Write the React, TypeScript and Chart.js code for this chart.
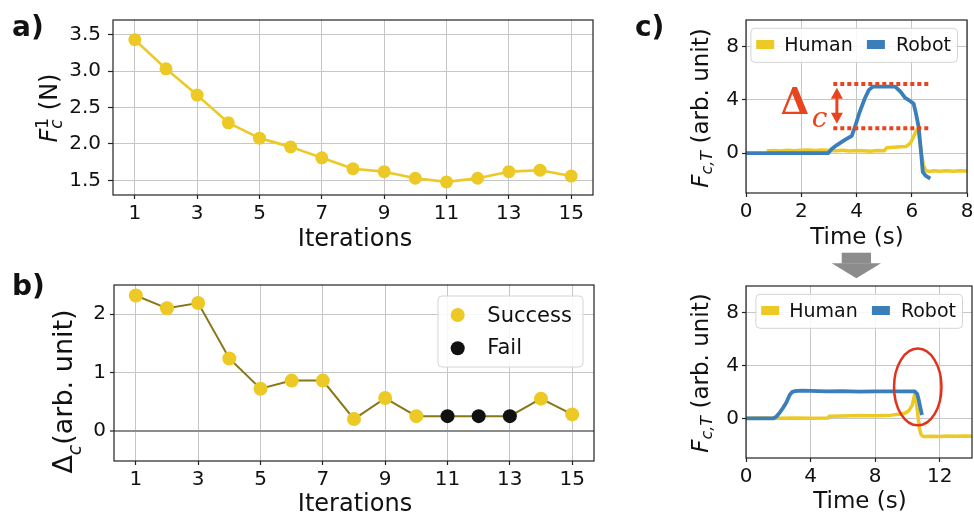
import React, { useEffect, useRef } from "react";
import { Chart, registerables } from "chart.js";

Chart.register(...registerables);

const FAM = "'DejaVu Sans', sans-serif";
const SERIF = "'DejaVu Serif', serif";
const INK = "#111111";
const YELLOW = "#ecc924";
const OLIVE = "#877718";
const BLUE = "#3a7eba";
const RED = "#e8441e";
const ELLIPSE_RED = "#e0321e";
const GRID = "#c6c6c6";
const AXIS = "#222222";

// ---------- panel a ----------
const iterations = [1, 2, 3, 4, 5, 6, 7, 8, 9, 10, 11, 12, 13, 14, 15];
const forceFirst = [3.43, 3.03, 2.67, 2.29, 2.08, 1.96, 1.81, 1.66, 1.62, 1.53, 1.48, 1.53, 1.62, 1.64, 1.56];
const iterTicks = [1, 3, 5, 7, 9, 11, 13, 15];
const iterTickLabels = ["1", "3", "5", "7", "9", "11", "13", "15"];
const forceTicks = [1.5, 2.0, 2.5, 3.0, 3.5];
const forceTickLabels = ["1.5", "2.0", "2.5", "3.0", "3.5"];

// ---------- panel b ----------
const deltaC = [2.32, 2.1, 2.19, 1.24, 0.72, 0.86, 0.86, 0.2, 0.56, 0.25, 0.25, 0.25, 0.25, 0.55, 0.28];
const outcome = ["Success", "Success", "Success", "Success", "Success", "Success", "Success", "Success", "Success", "Success", "Fail", "Fail", "Fail", "Success", "Success"];
const deltaTicks = [0, 1, 2];
const deltaTickLabels = ["0", "1", "2"];

// ---------- panel c (top: before learning) ----------
const humanTopT = [0.75, 1.0, 1.25, 1.5, 1.75, 2.0, 2.25, 2.5, 2.75, 3.0, 3.25, 3.5, 3.75, 4.0, 4.25, 4.5, 4.75, 5.0, 5.1, 5.35, 5.6, 5.8, 5.95, 6.05, 6.17, 6.22, 6.28, 6.35, 6.42, 6.5, 6.6, 6.8, 7.0, 7.25, 7.5, 7.75, 8.0];
const humanTopF = [0.15, 0.2, 0.16, 0.22, 0.18, 0.21, 0.24, 0.19, 0.23, 0.2, 0.17, 0.22, 0.15, 0.2, 0.18, 0.14, 0.19, 0.17, 0.4, 0.43, 0.47, 0.5, 0.75, 1.15, 1.7, 1.85, 1.1, 0.0, -0.9, -1.3, -1.38, -1.33, -1.37, -1.32, -1.36, -1.33, -1.35];
const robotTopT = [0, 2.98, 3.1, 3.29, 3.55, 3.83, 3.95, 4.1, 4.3, 4.45, 4.6, 5.0, 5.4, 5.6, 5.76, 5.95, 6.07, 6.15, 6.25, 6.33, 6.4, 6.5, 6.67];
const robotTopF = [0, 0, 0.3, 0.6, 0.95, 1.3, 2.0, 3.0, 4.1, 4.75, 5.0, 5.0, 5.0, 4.6, 4.15, 3.9, 3.7, 3.0, 1.95, 0.2, -1.42, -1.7, -1.92];
const timeTopTicks = [0, 2, 4, 6, 8];
const timeTopTickLabels = ["0", "2", "4", "6", "8"];
// delta_c marker levels (robot peak / human peak) and span
const deltaLevels = [5.2, 1.87];
const deltaSpan = [3.16, 6.6];
const deltaArrowT = 3.29;
const deltaArrowEnds = [4.9, 2.2];

// ---------- panel c (bottom: after learning) ----------
const humanBotT = [0, 1, 2, 3, 4, 5.1, 5.15, 6, 7, 8, 9, 9.3, 9.6, 9.9, 10.1, 10.3, 10.45, 10.55, 10.65, 10.75, 10.85, 11.0, 11.5, 12, 12.5, 13, 13.5, 14];
const humanBotF = [0, 0.02, 0, 0.02, 0, 0.02, 0.15, 0.18, 0.22, 0.2, 0.24, 0.28, 0.32, 0.42, 0.6, 1.0, 1.8, 1.3, 0.2, -0.8, -1.25, -1.38, -1.35, -1.37, -1.33, -1.36, -1.33, -1.35];
const robotBotT = [0, 1.7, 1.9, 2.1, 2.3, 2.5, 2.7, 2.85, 3.0, 3.5, 4.0, 5.0, 6.0, 7.0, 8.0, 9.0, 10.0, 10.45, 10.6, 10.7, 10.8, 10.9];
const robotBotF = [0, 0, 0.15, 0.45, 0.8, 1.2, 1.75, 1.98, 2.05, 2.1, 2.07, 2.03, 2.05, 2.02, 2.04, 2.03, 2.04, 2.03, 1.85, 1.4, 0.8, 0.25];
const timeBotTicks = [0, 4, 8, 12];
const timeBotTickLabels = ["0", "4", "8", "12"];
const forceCTicks = [0, 4, 8];
const forceCTickLabels = ["0", "4", "8"];
// highlighted region (centre t, centre F, half-width t, half-height F)
const highlight = [10.64, 2.37, 1.47, 2.9];

const seriesNames = ["Human", "Robot"];
const outcomeNames = ["Success", "Fail"];

type Seg = { t: string; font: string; dy?: number; stack?: boolean };

function richText(ctx: CanvasRenderingContext2D, segs: Seg[], x: number, y: number, rot: number) {
  ctx.save();
  ctx.translate(x, y);
  if (rot) ctx.rotate(rot);
  let pos = 0;
  let pending = 0;
  const placed: { s: Seg; x: number }[] = [];
  for (const s of segs) {
    ctx.font = s.font;
    const w = ctx.measureText(s.t).width;
    placed.push({ s, x: pos });
    if (s.stack) pending = Math.max(pending, w);
    else {
      pos += Math.max(w, pending);
      pending = 0;
    }
  }
  const start = -pos / 2;
  ctx.textBaseline = "alphabetic";
  ctx.textAlign = "left";
  ctx.fillStyle = INK;
  for (const p of placed) {
    ctx.font = p.s.font;
    ctx.fillText(p.s.t, start + p.x, p.s.dy ?? 0);
  }
  ctx.restore();
}

function plainText(ctx: CanvasRenderingContext2D, t: string, font: string, x: number, y: number, align: CanvasTextAlign, color = INK) {
  ctx.save();
  ctx.font = font;
  ctx.fillStyle = color;
  ctx.textAlign = align;
  ctx.textBaseline = "alphabetic";
  ctx.fillText(t, x, y);
  ctx.restore();
}

function frame(chart: any) {
  const { ctx, chartArea: a } = chart;
  ctx.save();
  ctx.strokeStyle = AXIS;
  ctx.lineWidth = 1.2;
  ctx.strokeRect(a.left, a.top, a.right - a.left, a.bottom - a.top);
  ctx.restore();
}

function legendBox(ctx: CanvasRenderingContext2D, x: number, y: number, w: number, h: number) {
  ctx.save();
  ctx.beginPath();
  ctx.roundRect(x, y, w, h, 4);
  ctx.fillStyle = "rgba(255,255,255,0.85)";
  ctx.fill();
  ctx.strokeStyle = "#d4d4d4";
  ctx.lineWidth = 1;
  ctx.stroke();
  ctx.restore();
}

function lineLegend(chart: any) {
  const { ctx, chartArea: a } = chart;
  const x0 = a.right - 9.5 - 206.6;
  const y0 = a.top + 8.3;
  legendBox(ctx, x0, y0, 206.6, 34);
  ctx.save();
  ctx.fillStyle = YELLOW;
  ctx.fillRect(x0 + 5.3, y0 + 11.7, 18, 9);
  ctx.fillStyle = BLUE;
  ctx.fillRect(x0 + 116, y0 + 11.7, 18, 9);
  ctx.restore();
  plainText(ctx, seriesNames[0], `19px ${FAM}`, x0 + 33.3, y0 + 22.4, "left");
  plainText(ctx, seriesNames[1], `19px ${FAM}`, x0 + 145, y0 + 22.4, "left");
}

function scale(axis: "x" | "y", min: number, max: number, ticks: number[], labels: string[], o: { fixed: number; tickLen: number; pad: number; gridColor?: any; gridWidth?: any }) {
  return {
    type: "linear",
    min,
    max,
    afterBuildTicks: (s: any) => {
      s.ticks = ticks.map((v) => ({ value: v }));
    },
    afterFit: (s: any) => {
      if (axis === "x") s.height = o.fixed;
      else s.width = o.fixed;
      s.paddingLeft = 0;
      s.paddingRight = 0;
      s.paddingTop = 0;
      s.paddingBottom = 0;
    },
    ticks: {
      callback: (_v: any, i: number) => labels[i],
      font: { size: 20, family: FAM },
      color: INK,
      padding: o.pad,
      maxRotation: 0,
      minRotation: 0,
      autoSkip: false,
    },
    grid: {
      color: o.gridColor ?? GRID,
      lineWidth: o.gridWidth ?? 1,
      tickLength: o.tickLen,
      tickColor: AXIS,
      tickWidth: 1.2,
      drawTicks: true,
    },
    border: { display: false },
  };
}

function baseOptions(padding: any, scales: any) {
  return {
    responsive: false,
    maintainAspectRatio: false,
    animation: false,
    events: [],
    layout: { padding },
    plugins: { legend: { display: false }, tooltip: { enabled: false } },
    scales,
  };
}

function configA(): any {
  return {
    type: "line",
    data: {
      datasets: [
        {
          data: iterations.map((x, i) => ({ x, y: forceFirst[i] })),
          borderColor: YELLOW,
          borderWidth: 2.6,
          pointRadius: 6.5,
          pointBackgroundColor: YELLOW,
          pointBorderWidth: 0,
          tension: 0,
          borderJoinStyle: "round",
        },
      ],
    },
    options: baseOptions(
      { top: 20, right: 27, left: 0, bottom: 0 },
      {
        x: scale("x", 0.3, 15.7, iterTicks, iterTickLabels, { fixed: 65, tickLen: 4, pad: 3 }),
        y: scale("y", 1.3, 3.7, forceTicks, forceTickLabels, { fixed: 113, tickLen: 5, pad: 7 }),
      }
    ),
    plugins: [
      {
        id: "decorA",
        afterDraw(chart: any) {
          const ctx = chart.ctx;
          frame(chart);
          richText(
            ctx,
            [
              { t: "F", font: `italic 24px ${FAM}` },
              { t: "1", font: `17px ${FAM}`, dy: -9, stack: true },
              { t: "c", font: `italic 17px ${FAM}`, dy: 5 },
              { t: " (N)", font: `24px ${FAM}` },
            ],
            57,
            108,
            -Math.PI / 2
          );
          plainText(ctx, "Iterations", `24px ${FAM}`, 355, 246, "center");
          plainText(ctx, "a)", `bold 28px ${FAM}`, 12, 36, "left");
        },
      },
    ],
  };
}

function configB(): any {
  return {
    type: "line",
    data: {
      datasets: [
        {
          data: iterations.map((x, i) => ({ x, y: deltaC[i] })),
          borderColor: OLIVE,
          borderWidth: 2,
          pointRadius: 7,
          pointBackgroundColor: outcome.map((o) => (o === "Fail" ? "#111111" : YELLOW)),
          pointBorderWidth: 0,
          tension: 0,
        },
      ],
    },
    options: baseOptions(
      { top: 25, right: 26, left: 0, bottom: 0 },
      {
        x: scale("x", 0.3, 15.7, iterTicks, iterTickLabels, { fixed: 59, tickLen: 4, pad: 3 }),
        y: scale("y", -0.52, 2.5, deltaTicks, deltaTickLabels, {
          fixed: 114,
          tickLen: 4,
          pad: 4,
          gridColor: (c: any) => (c.tick && c.tick.value === 0 ? "#8c8c8c" : GRID),
          gridWidth: (c: any) => (c.tick && c.tick.value === 0 ? 2 : 1),
        }),
      }
    ),
    plugins: [
      {
        id: "decorB",
        afterDraw(chart: any) {
          const ctx = chart.ctx;
          frame(chart);
          const a = chart.chartArea;
          const bx = a.right - 11 - 145;
          const by = a.top + 11;
          legendBox(ctx, bx, by, 145, 71);
          ctx.save();
          ctx.fillStyle = YELLOW;
          ctx.beginPath();
          ctx.arc(bx + 19.7, by + 19, 7, 0, Math.PI * 2);
          ctx.fill();
          ctx.fillStyle = "#111111";
          ctx.beginPath();
          ctx.arc(bx + 19.7, by + 52.3, 7, 0, Math.PI * 2);
          ctx.fill();
          ctx.restore();
          plainText(ctx, outcomeNames[0], `21px ${FAM}`, bx + 49.3, by + 25.7, "left");
          plainText(ctx, outcomeNames[1], `21px ${FAM}`, bx + 49.3, by + 58, "left");
          richText(
            ctx,
            [
              { t: "Δ", font: `27px ${FAM}` },
              { t: "c", font: `italic 19px ${FAM}`, dy: 9 },
              { t: "(arb. unit)", font: `27px ${FAM}` },
            ],
            72,
            131.5,
            -Math.PI / 2
          );
          plainText(ctx, "Iterations", `24px ${FAM}`, 355, 251, "center");
          plainText(ctx, "b)", `bold 28px ${FAM}`, 12, 35, "left");
        },
      },
    ],
  };
}

function forceTitle(ctx: CanvasRenderingContext2D, x: number, y: number) {
  richText(
    ctx,
    [
      { t: "F", font: `italic 23px ${FAM}` },
      { t: "c,T", font: `italic 16px ${FAM}`, dy: 4 },
      { t: " (arb. unit)", font: `23px ${FAM}` },
    ],
    x,
    y,
    -Math.PI / 2
  );
}

function lineDatasets(hT: number[], hF: number[], rT: number[], rF: number[]) {
  return [
    {
      data: hT.map((x, i) => ({ x, y: hF[i] })),
      borderColor: YELLOW,
      borderWidth: 3.5,
      pointRadius: 0,
      tension: 0,
      order: 1,
      borderJoinStyle: "round",
    },
    {
      data: rT.map((x, i) => ({ x, y: rF[i] })),
      borderColor: BLUE,
      borderWidth: 3.8,
      pointRadius: 0,
      tension: 0,
      order: 0,
      borderJoinStyle: "round",
    },
  ];
}

function configCTop(): any {
  return {
    type: "line",
    data: { datasets: lineDatasets(humanTopT, humanTopF, robotTopT, robotTopF) },
    options: baseOptions(
      { top: 20, right: 7, left: 0, bottom: 0 },
      {
        x: scale("x", 0, 8, timeTopTicks, timeTopTickLabels, { fixed: 67, tickLen: 4, pad: 3 }),
        y: scale("y", -3, 10, forceCTicks, forceCTickLabels, { fixed: 126, tickLen: 4, pad: 3 }),
      }
    ),
    plugins: [
      {
        id: "decorCTop",
        afterDatasetsDraw(chart: any) {
          const { ctx, scales } = chart;
          const xs = scales.x;
          const ys = scales.y;
          ctx.save();
          ctx.strokeStyle = RED;
          ctx.lineWidth = 4;
          ctx.setLineDash([4, 3]);
          for (const lv of deltaLevels) {
            ctx.beginPath();
            ctx.moveTo(xs.getPixelForValue(deltaSpan[0]), ys.getPixelForValue(lv));
            ctx.lineTo(xs.getPixelForValue(deltaSpan[1]), ys.getPixelForValue(lv));
            ctx.stroke();
          }
          ctx.setLineDash([]);
          const ax = xs.getPixelForValue(deltaArrowT);
          const y1 = ys.getPixelForValue(deltaArrowEnds[0]);
          const y2 = ys.getPixelForValue(deltaArrowEnds[1]);
          ctx.lineWidth = 3;
          ctx.beginPath();
          ctx.moveTo(ax, y1 + 8);
          ctx.lineTo(ax, y2 - 8);
          ctx.stroke();
          ctx.fillStyle = RED;
          ctx.beginPath();
          ctx.moveTo(ax, y1);
          ctx.lineTo(ax - 6, y1 + 11);
          ctx.lineTo(ax + 6, y1 + 11);
          ctx.closePath();
          ctx.fill();
          ctx.beginPath();
          ctx.moveTo(ax, y2);
          ctx.lineTo(ax - 6, y2 - 11);
          ctx.lineTo(ax + 6, y2 - 11);
          ctx.closePath();
          ctx.fill();
          ctx.restore();
          plainText(ctx, "Δ", `bold 37px ${SERIF}`, xs.getPixelForValue(1.25), ys.getPixelForValue(2.9), "left", RED);
          plainText(ctx, "c", `italic 28px ${SERIF}`, xs.getPixelForValue(2.38), ys.getPixelForValue(1.96), "left", RED);
        },
        afterDraw(chart: any) {
          const ctx = chart.ctx;
          frame(chart);
          lineLegend(chart);
          forceTitle(ctx, 88, 108);
          plainText(ctx, "Time (s)", `23px ${FAM}`, 237, 244, "center");
          plainText(ctx, "c)", `bold 28px ${FAM}`, 15, 36, "left");
        },
      },
    ],
  };
}

function configCBot(): any {
  return {
    type: "line",
    data: { datasets: lineDatasets(humanBotT, humanBotF, robotBotT, robotBotF) },
    options: baseOptions(
      { top: 46, right: 2, left: 0, bottom: 0 },
      {
        x: scale("x", 0, 14, timeBotTicks, timeBotTickLabels, { fixed: 62, tickLen: 4, pad: 3 }),
        y: scale("y", -3, 10, forceCTicks, forceCTickLabels, { fixed: 126, tickLen: 4, pad: 3 }),
      }
    ),
    plugins: [
      {
        id: "decorCBot",
        afterDatasetsDraw(chart: any) {
          const { ctx, scales } = chart;
          const xs = scales.x;
          const ys = scales.y;
          const cx = xs.getPixelForValue(highlight[0]);
          const cy = ys.getPixelForValue(highlight[1]);
          const rx = Math.abs(xs.getPixelForValue(highlight[0] + highlight[2]) - cx);
          const ry = Math.abs(ys.getPixelForValue(highlight[1] + highlight[3]) - cy);
          ctx.save();
          ctx.strokeStyle = ELLIPSE_RED;
          ctx.lineWidth = 2.5;
          ctx.beginPath();
          ctx.ellipse(cx, cy, rx, ry, 0, 0, Math.PI * 2);
          ctx.stroke();
          ctx.restore();
        },
        afterDraw(chart: any) {
          const ctx = chart.ctx;
          frame(chart);
          lineLegend(chart);
          forceTitle(ctx, 88, 133);
          plainText(ctx, "Time (s)", `23px ${FAM}`, 240, 268, "center");
          // grey transition arrow between the two c panels
          ctx.save();
          ctx.fillStyle = "#8c8c8c";
          ctx.fillRect(221.7, 12.7, 29.3, 10.8);
          ctx.beginPath();
          ctx.moveTo(211.7, 23.3);
          ctx.lineTo(261, 23.3);
          ctx.lineTo(236.35, 38.3);
          ctx.closePath();
          ctx.fill();
          ctx.restore();
        },
      },
    ],
  };
}

function Panel({ left, top, w, h, make }: { left: number; top: number; w: number; h: number; make: () => any }) {
  const ref = useRef<HTMLCanvasElement | null>(null);
  useEffect(() => {
    if (!ref.current) return;
    const chart = new Chart(ref.current, make());
    return () => chart.destroy();
  }, []);
  return <canvas ref={ref} width={w} height={h} style={{ position: "absolute", left, top, width: w, height: h }} />;
}

export default function App() {
  Chart.defaults.font.family = FAM;
  return (
    <div style={{ position: "absolute", left: 0, top: 0, width: 974, height: 520, overflow: "hidden", background: "#ffffff" }}>
      <Panel left={0} top={0} w={620} h={260} make={configA} />
      <Panel left={0} top={260} w={620} h={260} make={configB} />
      <Panel left={620} top={0} w={354} h={260} make={configCTop} />
      <Panel left={620} top={240} w={354} h={280} make={configCBot} />
    </div>
  );
}
